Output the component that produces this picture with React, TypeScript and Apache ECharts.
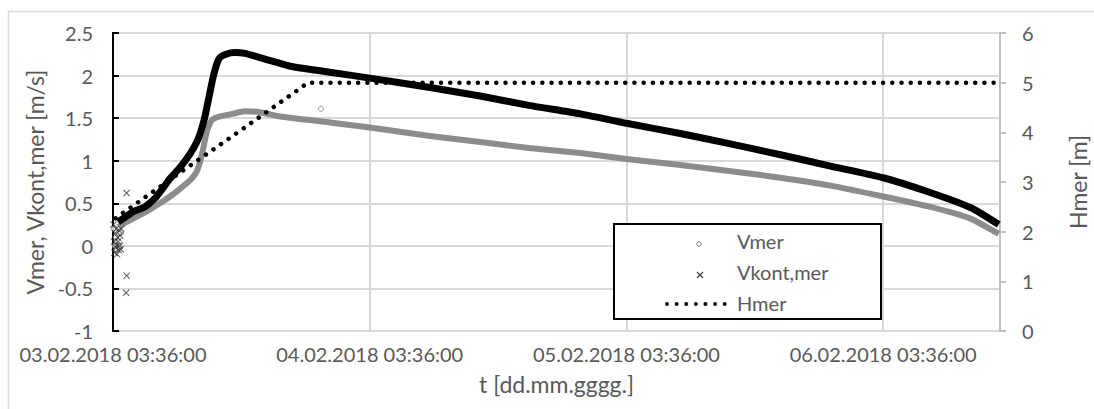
import { useEffect, useRef } from 'react';
import * as echarts from 'echarts';

// x values: days since 03.02.2018 03:36:00
const xTickLabels = [
  '03.02.2018 03:36:00',
  '04.02.2018 03:36:00',
  '05.02.2018 03:36:00',
  '06.02.2018 03:36:00',
];

// Vmer [m/s] – dense band of measured points
const vmerBand: [number, number][] = [
  [0.02, 0.22], [0.047, 0.27], [0.117, 0.38], [0.183, 0.5], [0.222, 0.58],
  [0.261, 0.67], [0.3, 0.77], [0.327, 0.88], [0.347, 1.08], [0.366, 1.35],
  [0.386, 1.48], [0.417, 1.52], [0.464, 1.55], [0.514, 1.58], [0.573, 1.57],
  [0.65, 1.52], [0.845, 1.45], [1.0, 1.39], [1.235, 1.29], [1.43, 1.22],
  [1.62, 1.15], [1.82, 1.09], [2.0, 1.02], [2.21, 0.95], [2.4, 0.88],
  [2.6, 0.8], [2.79, 0.71], [3.0, 0.58], [3.18, 0.46], [3.34, 0.32],
  [3.45, 0.14],
];
// Vmer – scattered points at the start and outliers
const vmerPoints: [number, number][] = [
  [0.003, 0.2], [0.007, 0.0], [0.011, 0.1], [0.015, -0.05], [0.019, 0.22],
  [0.023, 0.05], [0.027, -0.02], [0.031, 0.15], [0.81, 1.61],
];

// Vkont,mer [m/s]
const vkontBand: [number, number][] = [
  [0.02, 0.28], [0.039, 0.32], [0.078, 0.4], [0.125, 0.46], [0.164, 0.56],
  [0.195, 0.68], [0.222, 0.79], [0.261, 0.92], [0.3, 1.08], [0.331, 1.25],
  [0.355, 1.48], [0.374, 1.75], [0.393, 2.02], [0.413, 2.2], [0.44, 2.25],
  [0.475, 2.27], [0.514, 2.26], [0.573, 2.21], [0.631, 2.16], [0.69, 2.11],
  [0.845, 2.04], [1.0, 1.97], [1.235, 1.86], [1.43, 1.76], [1.62, 1.65],
  [1.82, 1.55], [2.0, 1.44], [2.21, 1.32], [2.4, 1.2], [2.6, 1.07],
  [2.79, 0.94], [3.0, 0.8], [3.18, 0.63], [3.34, 0.45], [3.45, 0.25],
];
const vkontPoints: [number, number][] = [
  [0.002, 0.25], [0.004, 0.05], [0.006, -0.08], [0.008, 0.15], [0.01, -0.02],
  [0.012, 0.2], [0.014, 0.0], [0.016, -0.1], [0.018, 0.1], [0.02, 0.05],
  [0.022, -0.05], [0.024, 0.18], [0.026, 0.0], [0.028, 0.12], [0.03, -0.04],
  [0.032, 0.2], [0.053, 0.62], [0.053, -0.35], [0.051, -0.55],
];

// Hmer [m]
const hmer: [number, number][] = [
  [0.01, 2.27], [0.25, 3.15], [0.5, 4.05], [0.76, 5.0], [3.455, 5.0],
];

const FONT = 'Lato';
const TXT = '#595959';
const GRID = '#d9d9d9';
const XMARK = 'path://M0,1L1,0L5,4L9,0L10,1L6,5L10,9L9,10L5,6L1,10L0,9L4,5Z';
const LZ = 100;

export default function App() {
  const ref = useRef<HTMLDivElement>(null);
  useEffect(() => {
    if (!ref.current) return;
    const chart = echarts.init(ref.current, undefined, { renderer: 'svg' });
    chart.setOption({
      animation: false,
      backgroundColor: '#fff',
      grid: {
        left: 113, top: 33, width: 887, height: 298,
        outerBoundsMode: 'none', containLabel: false,
        show: true, borderColor: '#000', borderWidth: 2, backgroundColor: 'transparent',
      },
      xAxis: {
        type: 'value', min: 0, max: 3.455, interval: 1,
        axisLine: { show: false }, axisTick: { show: false },
        splitLine: { show: true, lineStyle: { color: GRID, width: 2 } },
        axisLabel: {
          formatter: (v: number) => xTickLabels[Math.round(v)] ?? '',
          showMaxLabel: false, fontSize: 20, color: TXT, fontFamily: FONT, margin: 13,
        },
        name: 't [dd.mm.gggg.]', nameLocation: 'middle', nameGap: 41,
        nameTextStyle: { fontSize: 23, color: TXT, fontFamily: FONT },
      },
      yAxis: [
        {
          type: 'value', min: -1, max: 2.5, interval: 0.5,
          axisLine: { show: true, lineStyle: { color: '#000', width: 2 } },
          axisTick: { show: true, inside: true, length: 6, lineStyle: { color: '#000', width: 2 } },
          splitLine: { show: true, lineStyle: { color: GRID, width: 2 } },
          axisLabel: { fontSize: 20, color: TXT, fontFamily: FONT, margin: 20 },
          name: 'Vmer, Vkont,mer [m/s]', nameLocation: 'middle', nameRotate: 90, nameGap: 63,
          nameTextStyle: { fontSize: 23, color: TXT, fontFamily: FONT },
        },
        {
          type: 'value', min: 0, max: 6, interval: 1, position: 'right',
          axisLine: { show: true, lineStyle: { color: '#bfbfbf', width: 2 } },
          axisTick: { show: true, inside: false, length: 6, lineStyle: { color: '#bfbfbf', width: 2 } },
          splitLine: { show: false },
          axisLabel: { fontSize: 20, color: TXT, fontFamily: FONT, margin: 22 },
          name: 'Hmer [m]', nameLocation: 'middle', nameRotate: 90, nameGap: 66,
          nameTextStyle: { fontSize: 23, color: TXT, fontFamily: FONT },
        },
      ],
      series: [
        {
          name: 'Vmer', type: 'line', data: vmerBand, yAxisIndex: 0,
          showSymbol: false, smooth: 0.2,
          lineStyle: { color: '#8c8c8c', width: 6 }, z: 2,
        },
        {
          name: 'Vmer', type: 'scatter', data: vmerPoints, yAxisIndex: 0,
          symbol: 'circle', symbolSize: 5,
          itemStyle: { color: '#fff', borderColor: '#808080', borderWidth: 1 }, z: 2,
        },
        {
          name: 'Vkont,mer', type: 'line', data: vkontBand, yAxisIndex: 0,
          showSymbol: false, smooth: 0.2,
          lineStyle: { color: '#000', width: 7 }, z: 3,
        },
        {
          name: 'Vkont,mer', type: 'scatter', data: vkontPoints, yAxisIndex: 0,
          symbol: XMARK, symbolSize: 7,
          itemStyle: { color: '#333' }, z: 3,
        },
        {
          name: 'Hmer', type: 'line', data: hmer, yAxisIndex: 1,
          showSymbol: false,
          lineStyle: { color: '#000', width: 4.5, type: [0.01, 9.2], cap: 'round' }, z: 4,
        },
      ],
      graphic: [
        {
          type: 'rect', z: -10, silent: true,
          shape: { x: 8.5, y: 11.5, width: 1200, height: 500 },
          style: { fill: 'none', stroke: GRID, lineWidth: 1.5 },
        },
        {
          type: 'rect', z: LZ, shape: { x: 614, y: 224, width: 267, height: 95 },
          style: { fill: '#fff', stroke: '#000', lineWidth: 2 },
        },
        {
          type: 'circle', z: LZ + 1, shape: { cx: 699, cy: 244, r: 2.2 },
          style: { fill: '#fff', stroke: '#808080', lineWidth: 1 },
        },
        {
          type: 'line', z: LZ + 1, shape: { x1: 697, y1: 272, x2: 703, y2: 278 },
          style: { stroke: '#404040', lineWidth: 1.2 },
        },
        {
          type: 'line', z: LZ + 1, shape: { x1: 703, y1: 272, x2: 697, y2: 278 },
          style: { stroke: '#404040', lineWidth: 1.2 },
        },
        {
          type: 'line', z: LZ + 1, shape: { x1: 667, y1: 304, x2: 727, y2: 304 },
          style: { stroke: '#000', lineWidth: 4, lineDash: [0.01, 9.6], lineCap: 'round' },
        },
        {
          type: 'text', z: LZ + 1, x: 737, y: 241,
          style: { text: 'Vmer', fontSize: 20, fontFamily: FONT, fill: TXT, verticalAlign: 'middle' },
        },
        {
          type: 'text', z: LZ + 1, x: 737, y: 272,
          style: { text: 'Vkont,mer', fontSize: 20, fontFamily: FONT, fill: TXT, verticalAlign: 'middle' },
        },
        {
          type: 'text', z: LZ + 1, x: 737, y: 303,
          style: { text: 'Hmer', fontSize: 20, fontFamily: FONT, fill: TXT, verticalAlign: 'middle' },
        },
      ],
    });
    return () => chart.dispose();
  }, []);
  return (
    <div
      ref={ref}
      style={{ position: 'absolute', left: 0, top: 0, width: 1094, height: 409 }}
    />
  );
}
